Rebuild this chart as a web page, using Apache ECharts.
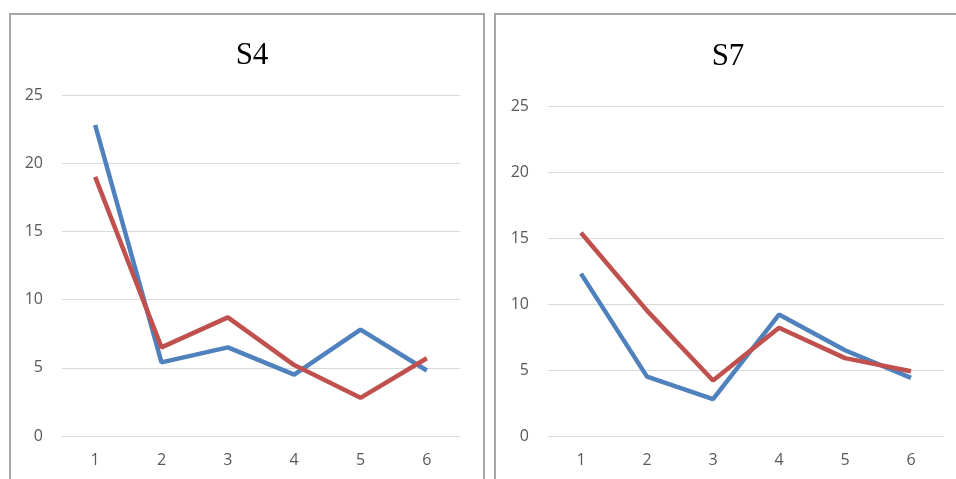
<!DOCTYPE html>
<html><head><meta charset="utf-8">
<script src="https://cdn.jsdelivr.net/npm/echarts@6/dist/echarts.min.js"></script>
<style>html,body{margin:0;padding:0;background:#fff}#c{width:956px;height:479px}</style>
</head><body><div id="c"></div>
<script>
const categories = ['1','2','3','4','5','6'];
const titles = ['S4','S7'];
const s4Blue = [22.8, 5.4, 6.5, 4.5, 7.8, 4.8];
const s4Red  = [19.0, 6.5, 8.7, 5.2, 2.8, 5.7];
const s7Blue = [12.3, 4.5, 2.8, 9.2, 6.5, 4.4];
const s7Red  = [15.4, 9.5, 4.2, 8.2, 5.9, 4.9];
const yTicks = [0, 5, 10, 15, 20, 25];

const BLUE = '#4F81BD', RED = '#C0504D';
const chart = echarts.init(document.getElementById('c'), null, {renderer:'canvas'});
const labelStyle = {color:'#595959', fontSize:16, fontFamily:'Open Sans, Liberation Sans, sans-serif'};
function xAxis(i){return {type:'category', gridIndex:i, data:categories, boundaryGap:true,
  axisLine:{show:true, lineStyle:{color:'#d9d9d9', width:1}}, axisTick:{show:false},
  axisLabel:Object.assign({margin:16}, labelStyle)};}
function yAxis(i){return {type:'value', gridIndex:i, min:yTicks[0], max:yTicks[yTicks.length-1], interval:5,
  axisLine:{show:false}, axisTick:{show:false},
  splitLine:{lineStyle:{color:'#d9d9d9', width:1}},
  axisLabel:Object.assign({margin:19}, labelStyle)};}
function line(i, data, color){return {type:'line', xAxisIndex:i, yAxisIndex:i, data:data, symbol:'none',
  lineStyle:{color:color, width:4.5}, itemStyle:{color:color}, animation:false};}
const titleStyle = {fontFamily:'Liberation Serif, Times New Roman, serif', fontWeight:'normal', fontSize:31, color:'#000'};
chart.setOption({
  animation:false,
  title:[
    {text:titles[0], left:247, top:35, textAlign:'center', textStyle:titleStyle},
    {text:titles[1], left:723, top:36, textAlign:'center', textStyle:titleStyle}
  ],
  grid:[
    {left:62, right:496, top:95, bottom:43},
    {left:548, right:12, top:106, bottom:43}
  ],
  xAxis:[xAxis(0), xAxis(1)],
  yAxis:[yAxis(0), yAxis(1)],
  series:[line(0,s4Blue,BLUE), line(0,s4Red,RED), line(1,s7Blue,BLUE), line(1,s7Red,RED)],
  graphic:[
    {type:'rect', shape:{x:10, y:14, width:474, height:500}, style:{fill:null, stroke:'#a6a6a6', lineWidth:2}, silent:true},
    {type:'rect', shape:{x:495, y:14, width:480, height:500}, style:{fill:null, stroke:'#a6a6a6', lineWidth:2}, silent:true}
  ]
});
</script></body></html>
